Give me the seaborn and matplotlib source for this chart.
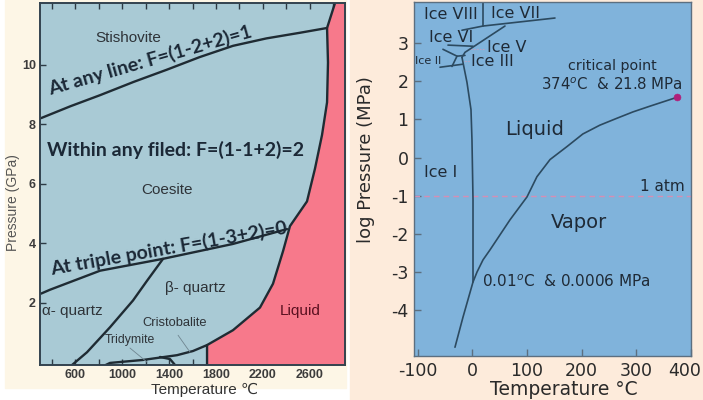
import matplotlib.pyplot as plt
import matplotlib.transforms as mtransforms
import seaborn as sns
from matplotlib.patches import Rectangle

# ---- SiO2 phase diagram (left): temperature in C, pressure in GPa ----
liquidus_T = [1724, 1724, 1945, 2175, 2286, 2372, 2431, 2576, 2644, 2704, 2747, 2755, 2747, 2815]
liquidus_P = [-0.1, 0.57, 1.07, 1.83, 2.63, 3.73, 4.57, 5.4, 6.5, 7.63, 8.73, 10.07, 11.23, 12.07]
stish_T = [309, 560, 811, 1100, 1383, 1660, 1945, 2230, 2517, 2747]
stish_P = [8.2, 8.6, 8.97, 9.42, 9.83, 10.25, 10.63, 10.88, 11.07, 11.23]
coesite_T = [309, 385, 812, 1349, 1945, 2406]
coesite_P = [2.3, 2.43, 3.07, 3.47, 3.97, 4.47]
ab_quartz_T = [573, 701, 897, 1093, 1212, 1349]
ab_quartz_P = [-0.1, 0.33, 1.17, 2.07, 2.73, 3.47]
tridymite_T = [860, 897, 1178, 1468, 1604, 1724]
tridymite_P = [-0.1, -0.03, 0.07, 0.23, 0.37, 0.57]
cristob_T = [1323, 1408, 1451]
cristob_P = [0.17, 0.1, -0.1]
silica_xticks = [600, 1000, 1400, 1800, 2200, 2600]
silica_yticks = [2, 4, 6, 8, 10]

# ---- water phase diagram (right): temperature in C, log pressure in MPa ----
melt_T = [-19.2, -10, -2.7, -0.9, 1, 1]
melt_P = [2.63, 1.97, 1.26, 0.47, -1.1, -3.26]
vapor_T = [-32, -17.3, 1, 8.3, 19.3, 32, 68.7, 99.8, 118, 142, 173, 202, 233, 264, 294, 325, 374]
vapor_P = [-4.97, -4.18, -3.26, -3.0, -2.68, -2.42, -1.63, -1.03, -0.5, -0.05, 0.29, 0.62, 0.85, 1.03,
           1.2, 1.35, 1.58]
ice_vii_T = [-19.2, 19.3, 151]
ice_vii_P = [3.34, 3.45, 3.66]
ice_viii_T = [19.3, 19.3]
ice_viii_P = [4.05, 3.45]
ice_v_T = [59.5, -13.7, -19.2]
ice_v_P = [3.45, 2.76, 2.63]
ice_vi_T = [-44.8, 1]
ice_vi_P = [2.95, 2.92]
ice_iii_T = [-54, -28.3, -13.7]
ice_iii_P = [2.84, 2.66, 2.68]
ice_ii_T = [-59.4, -17.3]
ice_ii_P = [2.37, 2.45]
ice_iib_T = [-28.3, -37.5]
ice_iib_P = [2.66, 2.39]
critical_T = [374]
critical_P = [1.58]
water_xticks = [-100, 0, 100, 200, 300, 400]
water_yticks = [-4, -3, -2, -1, 0, 1, 2, 3]

sns.set_style("ticks")
plt.rcParams['font.family'] = ['Liberation Sans', 'DejaVu Sans']
plt.rcParams['axes.unicode_minus'] = False

fig = plt.figure(figsize=(7.03, 4.0), dpi=100)
fig.patch.set_facecolor('white')
fig.add_artist(Rectangle((5 / 703, 12 / 400), 341 / 703, 388 / 400,
                         transform=fig.transFigure, color='#fdf6e6', zorder=-2))
fig.add_artist(Rectangle((350 / 703, 0), 353 / 703, 1,
                         transform=fig.transFigure, color='#fdebdb', zorder=-2))

# ================= left panel =================
ax1 = fig.add_axes([40 / 703, 35 / 400, 305 / 703, 362 / 400])
ax1.set_facecolor('#a9cad5')
ax1.set_xlim(300, 2900)
ax1.set_ylim(-0.1, 12.07)
ax1.fill_betweenx(liquidus_P, liquidus_T, 2900, color='#f7798b', lw=0)

line_c = '#1f2b33'
for xs, ys in [(liquidus_T, liquidus_P), (stish_T, stish_P), (coesite_T, coesite_P),
               (ab_quartz_T, ab_quartz_P), (tridymite_T, tridymite_P), (cristob_T, cristob_P)]:
    sns.lineplot(x=xs, y=ys, sort=False, estimator=None, color=line_c, lw=1.7, ax=ax1)

# thin leader lines
ax1.plot([1067, 1212], [0.47, 0.0], color='#6f8590', lw=0.6)
ax1.plot([1477, 1579], [0.9, 0.33], color='#6f8590', lw=0.6)

ax1.set_xticks(silica_xticks)
ax1.set_xticks(range(400, 2900, 200), minor=True)
ax1.set_yticks(silica_yticks)
ax1.tick_params(which='both', direction='in', top=True, right=True, length=4,
                width=1, color='#2c3a44', labelsize=9, labelcolor='#3c3c3c', pad=3)
for lab in ax1.get_xticklabels() + ax1.get_yticklabels():
    lab.set_fontweight('bold')
for s in ax1.spines.values():
    s.set_color('#33434f')
    s.set_linewidth(1.4)
ax1.set_xlabel('Temperature ℃', fontsize=11, color='#333333')
ax1.xaxis.set_label_coords(0.54, -0.05)
ax1.set_ylabel('Pressure (GPa)', fontsize=10, color='#555555')
ax1.yaxis.set_label_coords(-0.065, 0.45)

lab_c = '#2e3338'
ax1.text(1050, 10.9, 'Stishovite', fontsize=11, color=lab_c, ha='center', va='center')
ax1.text(1383, 5.8, 'Coesite', fontsize=11, color=lab_c, ha='center', va='center')
ax1.text(1621, 2.5, 'β- quartz', fontsize=11, color=lab_c, ha='center', va='center')
ax1.text(320, 1.73, 'α- quartz', fontsize=11, color=lab_c, ha='left', va='center')
ax1.text(1451, 1.3, 'Cristobalite', fontsize=9.3, color=lab_c, ha='center', va='center')
ax1.text(1067, 0.73, 'Tridymite', fontsize=8.8, color=lab_c, ha='center', va='center')
ax1.text(2516, 1.73, 'Liquid', fontsize=11, color='#5a1020', ha='center', va='center')

big = dict(family='Lato', fontweight='bold', fontsize=14, color='#1b2836',
           ha='center', va='center', rotation_mode='anchor')
ax1.text(1238, 10.13, 'At any line: F=(1-2+2)=1', rotation=16, **big)
ax1.text(1459, 7.13, 'Within any filed: F=(1-1+2)=2', **big)
ax1.text(1400, 3.83, 'At triple point: F=(1-3+2)=0', rotation=10, **big)

# ================= right panel =================
ax2 = fig.add_axes([414 / 703, 44 / 400, 277 / 703, 354 / 400])
ax2.set_facecolor('#80b3db')
ax2.set_xlim(-107, 400)
ax2.set_ylim(-5.2, 4.08)

ax2.axhline(-1, color='#d58fb4', lw=1, ls=(0, (4, 3)))
ax2.plot([-8.2, 23], [2.84, 2.84], color='#d39cb8', lw=0.8, ls=':')
ax2.plot([-19.2, -4.5], [2.53, 2.53], color='#d39cb8', lw=0.8, ls=':')

w_c = '#2c4a60'
for xs, ys in [(melt_T, melt_P), (vapor_T, vapor_P), (ice_vii_T, ice_vii_P),
               (ice_viii_T, ice_viii_P), (ice_v_T, ice_v_P), (ice_vi_T, ice_vi_P),
               (ice_iii_T, ice_iii_P), (ice_ii_T, ice_ii_P), (ice_iib_T, ice_iib_P)]:
    sns.lineplot(x=xs, y=ys, sort=False, estimator=None, color=w_c, lw=1.2, ax=ax2)
sns.scatterplot(x=critical_T, y=critical_P, color='#b0207a', s=25, edgecolor='#b0207a',
                zorder=5, clip_on=False, ax=ax2)

ax2.set_xticks(water_xticks)
ax2.set_yticks(water_yticks)
ax2.tick_params(direction='in', length=5, width=1, color='#5c6f80', labelsize=12.5,
                labelcolor='#2a2a2a', pad=4)
for lab in ax2.get_xticklabels() + ax2.get_yticklabels():
    lab.set_family('DejaVu Sans')
last = ax2.get_xticklabels()[-1]
last.set_horizontalalignment('right')
last.set_transform(last.get_transform() + mtransforms.ScaledTranslation(10 / 100, 0, fig.dpi_scale_trans))
for s in ax2.spines.values():
    s.set_color('#5c6f80')
    s.set_linewidth(1)
ax2.set_xlabel('Temperature °C', fontsize=13.5, family='DejaVu Sans', color='#2a2a2a')
ax2.xaxis.set_label_coords(0.54, -0.068)
ax2.set_ylabel('log Pressure (MPa)', fontsize=13, family='DejaVu Sans', color='#2a2a2a')
ax2.yaxis.set_label_coords(-0.14, 0.554)

t = dict(family='DejaVu Sans', color='#1f2a36', va='center')
ax2.text(-39, 3.76, 'Ice VIII', fontsize=11.5, ha='center', **t)
ax2.text(78, 3.79, 'Ice VII', fontsize=11.5, ha='center', **t)
ax2.text(-39, 3.16, 'Ice VI', fontsize=11.5, ha='center', **t)
ax2.text(63, 2.89, 'Ice V', fontsize=11.5, ha='center', **t)
ax2.text(-106, 2.53, 'Ice II', fontsize=8, ha='left', **t)
ax2.text(37, 2.53, 'Ice III', fontsize=11.5, ha='center', **t)
ax2.text(257, 2.4, 'critical point', fontsize=10.3, ha='center', **t)
ax2.text(255, 1.92, '374$^o$C  & 21.8 MPa', fontsize=10.8, ha='center', **t)
ax2.text(113, 0.74, 'Liquid', fontsize=14, ha='center', **t)
ax2.text(-59, -0.4, 'Ice I', fontsize=11.5, ha='center', **t)
ax2.text(389, -0.76, '1 atm', fontsize=11, ha='right', **t)
ax2.text(195, -1.71, 'Vapor', fontsize=14, ha='center', **t)
ax2.text(17, -3.26, '0.01$^o$C  & 0.0006 MPa', fontsize=11, ha='left', **t)

fig.savefig('out.png', dpi=100)
